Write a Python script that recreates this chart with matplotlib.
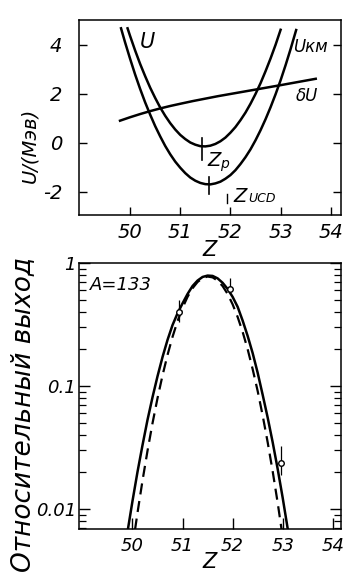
import matplotlib
matplotlib.use("Agg")
import matplotlib.pyplot as plt
from matplotlib.ticker import LogLocator, NullFormatter, FixedLocator

plt.rcParams['font.family'] = ['DejaVu Sans']
plt.rcParams['font.style'] = 'italic'

# --- upper panel: potential curves ---
z_u = [49.95, 50.0, 50.1, 50.2, 50.3, 50.4, 50.5, 50.6, 50.7, 50.8, 50.9, 51.0,
       51.1, 51.2, 51.3, 51.4, 51.5, 51.6, 51.7, 51.8, 51.9, 52.0, 52.1, 52.2,
       52.3, 52.4, 52.5, 52.6, 52.7, 52.8, 52.9, 53.0]
u_vals = [4.67, 4.36, 3.77, 3.22, 2.72, 2.25, 1.83, 1.44, 1.10, 0.80, 0.54, 0.32,
          0.15, 0.01, -0.08, -0.14, -0.15, -0.12, -0.05, 0.06, 0.21, 0.41, 0.64, 0.92,
          1.23, 1.59, 1.99, 2.43, 2.92, 3.44, 4.00, 4.61]

z_ukm = [49.82, 49.9, 50.0, 50.1, 50.2, 50.3, 50.4, 50.5, 50.6, 50.7, 50.8, 50.9,
         51.0, 51.1, 51.2, 51.3, 51.4, 51.5, 51.6, 51.7, 51.8, 51.9, 52.0, 52.1,
         52.2, 52.3, 52.4, 52.5, 52.6, 52.7, 52.8, 52.9, 53.0, 53.1, 53.2, 53.31]
ukm_vals = [4.67, 4.10, 3.43, 2.79, 2.20, 1.65, 1.15, 0.68, 0.26, -0.13, -0.47, -0.77,
            -1.02, -1.24, -1.42, -1.55, -1.64, -1.69, -1.70, -1.66, -1.59, -1.47, -1.32, -1.12,
            -0.87, -0.59, -0.27, 0.10, 0.51, 0.96, 1.45, 1.98, 2.55, 3.17, 3.83, 4.60]

z_du = [49.8, 50.0, 50.2, 50.4, 50.6, 50.8, 51.0, 51.25, 51.5, 51.75, 52.0,
        52.25, 52.5, 52.75, 53.0, 53.35, 53.7]
du_vals = [0.9, 1.04, 1.17, 1.29, 1.40, 1.50, 1.59, 1.70, 1.80, 1.90, 1.99,
           2.08, 2.17, 2.26, 2.35, 2.48, 2.61]

zp = 51.43
zp_span = [0.2, -0.7]
zucd_min = 51.57
zucd_span = [-1.4, -2.1]
zucd = 51.93
zucd_tick = [-2.1, -2.45]

# --- lower panel: relative yield, A = 133 ---
z_fit = [49.9, 50.0, 50.1, 50.2, 50.3, 50.4, 50.5, 50.6, 50.7, 50.8, 50.9, 51.0,
         51.1, 51.2, 51.3, 51.4, 51.5, 51.6, 51.7, 51.8, 51.9, 52.0, 52.1, 52.2,
         52.3, 52.4, 52.5, 52.6, 52.7, 52.8, 52.9, 53.0, 53.1, 53.2]
y_fit = [0.0065, 0.0116, 0.020, 0.033, 0.053, 0.081, 0.120, 0.172, 0.237, 0.313, 0.39, 0.47,
         0.56, 0.65, 0.72, 0.77, 0.79, 0.785, 0.75, 0.69, 0.615, 0.53, 0.44, 0.34,
         0.255, 0.185, 0.128, 0.0847, 0.0553, 0.0348, 0.0211, 0.0123, 0.0069, 0.0038]

z_dash = [50.0, 50.1, 50.2, 50.3, 50.4, 50.5, 50.6, 50.7, 50.8, 50.9, 51.0, 51.1,
          51.2, 51.3, 51.4, 51.5, 51.6, 51.7, 51.8, 51.9, 52.0, 52.1, 52.2, 52.3,
          52.4, 52.5, 52.6, 52.7, 52.8, 52.9, 53.0]
y_dash = [0.0049, 0.0093, 0.0170, 0.0297, 0.0498, 0.0796, 0.122, 0.179, 0.251, 0.337, 0.432, 0.531,
          0.624, 0.701, 0.754, 0.776, 0.764, 0.719, 0.649, 0.560, 0.461, 0.364, 0.275, 0.199,
          0.137, 0.091, 0.0575, 0.0348, 0.0202, 0.0112, 0.0059]

z_exp = [50.93, 51.95, 52.97]
y_exp = [0.40, 0.62, 0.0238]
y_lo = [0.07, 0.02, 0.005]
y_hi = [0.10, 0.13, 0.009]

LW = 1.8
fig = plt.figure(figsize=(3.46, 5.78), dpi=100)

# upper panel
ax1 = fig.add_axes([0.228, 0.628, 0.757, 0.337])
ax1.plot(z_u, u_vals, color='black', lw=LW)
ax1.plot(z_ukm, ukm_vals, color='black', lw=LW)
ax1.plot(z_du, du_vals, color='black', lw=LW)
ax1.plot([zp, zp], zp_span, color='black', lw=1.2)
ax1.plot([zucd_min, zucd_min], zucd_span, color='black', lw=1.2)
ax1.plot([zucd, zucd], zucd_tick, color='black', lw=1.0)
ax1.set_xlim(48.98, 54.2)
ax1.set_ylim(-2.95, 5.0)
ax1.set_xticks([50, 51, 52, 53, 54])
ax1.set_yticks([-2, 0, 2, 4])
ax1.set_yticklabels(['-2', '0', '2', '4'])
ax1.tick_params(direction='in', length=6, width=1.0, labelsize=14,
                right=True, top=False, pad=6)
ax1.tick_params(axis='y', pad=12)
for s in ax1.spines.values():
    s.set_linewidth(1.1)
ax1.set_xlabel('Z', fontsize=15, labelpad=-2)
ax1.set_ylabel('U/(Мэв)', fontsize=14)
ax1.yaxis.set_label_coords(-0.15, 0.36)
ax1.text(50.2, 3.85, 'U', fontsize=15)
ax1.text(53.25, 3.7, 'Uкм', fontsize=12)
ax1.text(53.3, 1.7, 'δU', fontsize=12)
ax1.text(51.55, -0.95, 'Z', fontsize=14)
ax1.text(51.8, -1.05, 'p', fontsize=10)
ax1.text(52.05, -2.4, 'Z', fontsize=14)
ax1.text(52.35, -2.4, 'UCD', fontsize=9)

# lower panel
ax2 = fig.add_axes([0.228, 0.085, 0.757, 0.460])
ax2.set_yscale('log')
ax2.plot(z_fit, y_fit, color='black', lw=LW)
ax2.plot(z_dash, y_dash, color='black', lw=1.6, dashes=(5, 3))
ax2.errorbar(z_exp, y_exp, yerr=[y_lo, y_hi], fmt='o', mfc='white', mec='black',
             ms=4, mew=1.0, ecolor='black', elinewidth=0.9, capsize=0)
ax2.set_xlim(48.93, 54.16)
ax2.set_ylim(0.0069, 1.0)
ax2.set_xticks([50, 51, 52, 53, 54])
ax2.yaxis.set_major_locator(FixedLocator([0.01, 0.1, 1.0]))
ax2.set_yticklabels(['0.01', '0.1', '1'])
ax2.yaxis.set_minor_locator(LogLocator(base=10, subs=range(2, 10)))
ax2.yaxis.set_minor_formatter(NullFormatter())
ax2.tick_params(which='major', direction='in', length=8, width=1.0, labelsize=13,
                right=True, top=False, pad=6)
ax2.tick_params(axis='y', which='major', pad=2)
ax2.tick_params(which='minor', direction='in', length=5, width=0.9, right=True)
for s in ax2.spines.values():
    s.set_linewidth(1.1)
ax2.set_xlabel('Z', fontsize=15, labelpad=-2)
ax2.set_ylabel('Относительный выход', fontsize=19)
ax2.yaxis.set_label_coords(-0.165, 0.43)
ax2.text(49.15, 0.6, 'A=133', fontsize=13)

fig.savefig('out.png', dpi=100)
